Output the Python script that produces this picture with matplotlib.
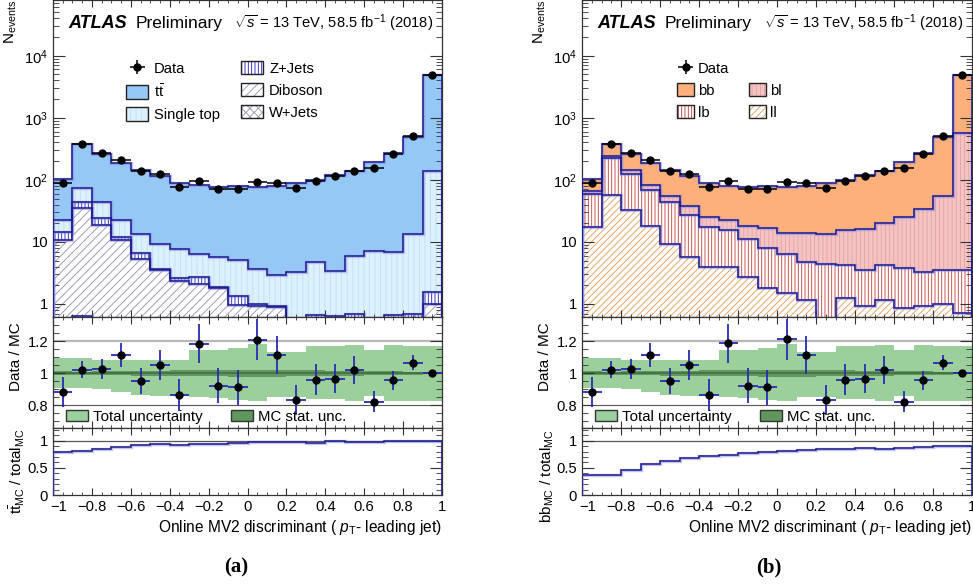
import numpy as np
import matplotlib.pyplot as plt
from matplotlib.patches import Patch
from matplotlib.legend_handler import HandlerTuple
from matplotlib.transforms import ScaledTranslation
from matplotlib.ticker import MultipleLocator, LogLocator, FuncFormatter, NullFormatter

plt.rcParams['font.family'] = ['Liberation Sans', 'DejaVu Sans']
plt.rcParams['mathtext.fontset'] = 'custom'
plt.rcParams['mathtext.rm'] = 'Liberation Sans'
plt.rcParams['mathtext.it'] = 'Liberation Sans:italic'
plt.rcParams['mathtext.bf'] = 'Liberation Sans:bold'
plt.rcParams['hatch.linewidth'] = 0.65

# 20 bins of the online MV2 discriminant
bin_edges = np.linspace(-1.0, 1.0, 21)

data = np.array([90, 384, 267, 206, 138, 122, 77, 96, 72, 72,
                 92, 89, 75, 97, 116, 140, 157, 257, 517, 4900])

# (a) composition by process
w_jets = np.array([0.3, 0.63, 0.3, 0.3, 0.3, 0.3, 0.3, 0.3, 0.3, 0.3,
                   0.3, 0.3, 0.3, 0.3, 0.3, 0.3, 0.3, 0.3, 0.3, 0.3])
diboson = np.array([10.3, 34.1, 18.1, 10.3, 5.1, 3.2, 2.03, 1.8, 1.5, 0.67,
                    0.63, 0.59, 0.2, 0.25, 0.25, 0.25, 0.25, 0.25, 0.25, 0.7])
z_jets = np.array([3.6, 8.8, 5.5, 1.6, 1.3, 0.1, 0.31, 0.6, 0.05, 0.36,
                   0.05, 0.03, 0.08, 0.11, 0.1, 0.15, 0.05, 0.11, 0.15, 0.55])
single_top = np.array([8.0, 31.5, 19.6, 10.0, 6.9, 5.7, 5.16, 3.75, 3.95, 3.77,
                       2.67, 1.98, 2.72, 4.09, 2.75, 5.2, 6.5, 6.24, 12.9, 139.5])
ttbar = np.array([79.8, 301, 216.5, 162.8, 131.4, 106.7, 81.2, 74.6, 72.2, 73.9,
                  72.4, 77.1, 86.7, 96.3, 116.6, 131.1, 183.9, 262.1, 471.4, 4759])

# (b) composition by jet flavour
ll = np.array([17.3, 57, 32.7, 18.2, 9.4, 5.7, 3.9, 3.9, 2.7, 1.8,
               1.49, 1.17, 0.55, 1.24, 0.94, 1.17, 0.86, 0.94, 1.01, 0.71])
lb = np.array([41.7, 168, 93.3, 50.8, 33.8, 21.7, 13.6, 11.6, 8.4, 6.1,
               4.91, 3.63, 3.91, 3.01, 2.62, 3.13, 2.94, 2.33, 2.46, 2.76])
bl = np.array([8, 21, 16, 15, 11.8, 10.6, 7.5, 7, 7.1, 8.8,
               7.6, 9, 8.74, 11.25, 12.44, 16.2, 21, 31, 51.5, 567.5])
bb = np.array([35, 130, 118, 101, 90, 78, 64, 58.5, 59.8, 62.3,
               62, 66.2, 76.8, 85.5, 104, 116.5, 166.2, 234.7, 430, 4329])

# uncertainty bands on Data / MC (half widths)
tot_up = np.array([0.096, 0.096, 0.085, 0.085, 0.085, 0.085, 0.083, 0.145, 0.145, 0.155,
                   0.183, 0.131, 0.131, 0.167, 0.167, 0.177, 0.142, 0.173, 0.169, 0.169])
tot_dn = np.array([0.094, 0.094, 0.1, 0.12, 0.135, 0.144, 0.144, 0.15, 0.152, 0.165,
                   0.17, 0.15, 0.15, 0.16, 0.16, 0.171, 0.14, 0.171, 0.171, 0.171])
mc_stat = np.array([0.012, 0.01, 0.012, 0.014, 0.016, 0.016, 0.018, 0.02, 0.02, 0.022,
                    0.022, 0.022, 0.02, 0.018, 0.016, 0.015, 0.013, 0.012, 0.01, 0.008])

# signal fraction shown in the bottom pads
tt_frac = np.array([0.793, 0.811, 0.854, 0.89, 0.927, 0.933, 0.92, 0.933, 0.945, 0.963,
                    0.976, 0.976, 0.976, 0.963, 0.988, 0.98, 0.98, 0.988, 0.988, 0.988])
bb_frac = np.array([0.372, 0.372, 0.46, 0.567, 0.634, 0.677, 0.713, 0.73, 0.768, 0.787,
                    0.817, 0.835, 0.854, 0.854, 0.872, 0.854, 0.872, 0.884, 0.896, 0.896])

NAVY = '#1c1c8e'
HALO = '#8a8ae0'
FRAME = '#333333'
FS = 10.6

centers = 0.5 * (bin_edges[:-1] + bin_edges[1:])
half_w = 0.5 * np.diff(bin_edges)


def handle(face, hatch=None, hcol=None):
    parts = [Patch(facecolor=face, edgecolor='none', lw=0)]
    if hatch:
        parts.append(Patch(facecolor='none', edgecolor=hcol, hatch=hatch, lw=0))
    parts.append(Patch(facecolor='none', edgecolor='#222222', lw=1.0))
    return tuple(parts)


def outline(ax, top, baseline):
    ax.stairs(top, bin_edges, baseline=baseline, color=HALO, lw=2.4, alpha=0.5, zorder=3)
    ax.stairs(top, bin_edges, baseline=baseline, color=NAVY, lw=1.1, zorder=3.1)


def draw_stack(ax, layers):
    bottom = np.full(len(centers), 1e-3)
    tops = []
    for vals, face, hatch, hcol in layers:
        top = bottom + vals
        ax.stairs(top, bin_edges, baseline=bottom, fill=True, facecolor=face,
                  edgecolor='none', lw=0, zorder=1)
        if hatch:
            ax.stairs(top, bin_edges, baseline=bottom, fill=True, facecolor='none',
                      edgecolor=hcol, hatch=hatch, lw=0, zorder=1.5)
        tops.append(top)
        bottom = top
    for top in tops:
        outline(ax, top, 1e-3)
    return bottom


def style(ax, ymaj, ymin):
    for s in ax.spines.values():
        s.set_color(FRAME)
        s.set_linewidth(0.9)
    ax.tick_params(which='both', direction='in', top=True, right=True,
                   labelsize=FS, color=FRAME)
    ax.tick_params(axis='y', which='major', length=ymaj)
    ax.tick_params(axis='y', which='minor', length=ymin)
    ax.tick_params(axis='x', which='major', length=5)
    ax.tick_params(axis='x', which='minor', length=2.5)
    ax.set_xlim(-1, 1)
    ax.xaxis.set_major_locator(MultipleLocator(0.2))
    ax.xaxis.set_minor_locator(MultipleLocator(0.05))


def log_label(v, pos):
    if v == 1:
        return '1'
    if v == 10:
        return '10'
    return r'$\mathregular{10^{%d}}$' % round(np.log10(v))


def plain_label(v, pos):
    return ('%g' % round(v, 2)).replace('-', '\u2212')


def draw_column(fig, left, width, layers, leg_labels, leg_handles, leg_cfg,
                frac, frac_label, caption, cap_x):
    ax = fig.add_axes([left, 0.46, width, 0.54])
    rax = fig.add_axes([left, 0.2709, width, 0.1891], sharex=ax)
    fax = fig.add_axes([left, 0.1567, width, 0.1142], sharex=ax)

    total = draw_stack(ax, layers)
    dat = ax.errorbar(centers, data, xerr=half_w, yerr=np.sqrt(data), fmt='o',
                      color='black', ms=5, elinewidth=1.1, capsize=0, zorder=5)
    ax.set_yscale('log')
    ax.set_ylim(0.617, 7.9e4)
    style(ax, 8.5, 4.3)
    ax.yaxis.set_major_locator(LogLocator(base=10, numticks=10))
    ax.yaxis.set_minor_locator(LogLocator(base=10, subs=np.arange(2, 10), numticks=20))
    ax.yaxis.set_major_formatter(FuncFormatter(log_label))
    ax.yaxis.set_minor_formatter(NullFormatter())
    ax.tick_params(axis='x', labelbottom=False)
    ax.set_ylabel(r'N$_{\mathrm{events}}$', fontsize=11, loc='top')
    ax.yaxis.set_label_coords(-0.088, 1.0)

    ax.text(0.04, 0.927, 'ATLAS', transform=ax.transAxes, fontsize=13,
            fontweight='bold', fontstyle='italic', va='center')
    ax.text(0.212, 0.927, 'Preliminary', transform=ax.transAxes, fontsize=12.5, va='center')
    ax.text(0.466, 0.927, r'$\sqrt{s}$ = 13 TeV, 58.5 fb$^{\mathregular{-1}}$ (2018)',
            transform=ax.transAxes, fontsize=10.6, va='center')

    ax.legend([dat] + leg_handles, leg_labels, ncol=2, loc='upper left',
              bbox_to_anchor=leg_cfg['anchor'], frameon=False, fontsize=FS,
              handlelength=leg_cfg['hl'], handleheight=1.0,
              handletextpad=leg_cfg['pad'], labelspacing=0.5,
              columnspacing=leg_cfg['cs'], borderpad=0, borderaxespad=0,
              handler_map={tuple: HandlerTuple(ndivide=1)})

    # Data / MC
    ratio = data / total
    rax.stairs(1 + tot_up, bin_edges, baseline=1 - tot_dn, fill=True,
               color='#9bcf9b', zorder=1)
    rax.stairs(1 + mc_stat, bin_edges, baseline=1 - mc_stat, fill=True,
               color='#5f975f', zorder=1.2)
    rax.axhline(1.2, color='#b8b8b8', lw=1.6, zorder=0.5)
    rax.axhline(0.8, color='#555555', lw=0.8, zorder=0.5)
    rax.axhline(1.0, color='#446e44', lw=1.2, zorder=1.3)
    rax.errorbar(centers, ratio, xerr=half_w, yerr=np.sqrt(data) / total, fmt='o',
                 mfc='black', mec='black', ecolor='#2a2ab4', ms=5, elinewidth=1.3,
                 capsize=0, zorder=5)
    rax.set_ylim(0.659, 1.35)
    style(rax, 8.5, 4.3)
    rax.yaxis.set_major_locator(MultipleLocator(0.2))
    rax.yaxis.set_minor_locator(MultipleLocator(0.05))
    rax.yaxis.set_major_formatter(FuncFormatter(plain_label))
    rax.tick_params(axis='x', labelbottom=False)
    rax.set_ylabel('Data / MC', fontsize=11, loc='top')
    rax.yaxis.set_label_coords(-0.076, 0.95)
    rax.legend([Patch(facecolor='#9bcf9b', edgecolor='#333333', lw=1.0),
                Patch(facecolor='#5f975f', edgecolor='#333333', lw=1.0)],
               ['Total uncertainty', 'MC stat. unc.'], ncol=2, loc='center left',
               bbox_to_anchor=(0.034, 0.1), frameon=False, fontsize=10.8,
               handlelength=1.45, handleheight=0.8, handletextpad=0.35,
               columnspacing=1.9, borderpad=0, borderaxespad=0)

    # signal fraction
    fax.axhline(1.0, color='#555555', lw=0.9, zorder=0.5)
    fax.stairs(frac, bin_edges, baseline=0, color=HALO, lw=2.4, alpha=0.5, zorder=3)
    fax.stairs(frac, bin_edges, baseline=0, color=NAVY, lw=1.1, zorder=3.1)
    fax.set_ylim(0, 1.234)
    style(fax, 8.5, 4.3)
    fax.yaxis.set_major_locator(MultipleLocator(0.5))
    fax.yaxis.set_minor_locator(MultipleLocator(0.1))
    fax.yaxis.set_major_formatter(FuncFormatter(plain_label))
    fax.xaxis.set_major_formatter(FuncFormatter(plain_label))
    fax.set_ylabel(frac_label, fontsize=11, loc='top')
    fax.yaxis.set_label_coords(-0.066, 0.99)
    fax.set_xlabel(r'Online MV2 discriminant ( $p_{\mathrm{T}}$- leading jet)',
                   fontsize=11.2, loc='right', labelpad=3)
    # the leftmost x label sits a little right of its tick, clear of the y "0"
    locs = fax.xaxis.get_majorticklocs()
    ticks = fax.xaxis.get_major_ticks(len(locs))
    first = ticks[int(np.argmin(np.abs(locs + 1.0)))].label1
    first.set_transform(first.get_transform()
                        + ScaledTranslation(4 / 72, 0, fig.dpi_scale_trans))

    fig.text(cap_x, 1 - 567 / 587, caption, family=['Liberation Serif', 'DejaVu Serif'],
             fontweight='bold', fontsize=15, ha='center', va='center')


fig = plt.figure(figsize=(9.73, 5.87), dpi=100)

layers_a = [
    (w_jets, 'white', 'xxxx', '#9a9aae'),
    (diboson, 'white', '////', '#9a9aae'),
    (z_jets, 'white', '|||||', '#2b2bc8'),
    (single_top, '#dcf1fd', '|||', '#bfe2f7'),
    (ttbar, '#96c8f6', None, None),
]
handles_a = [handle('#96c8f6'), handle('#dcf1fd', '|||', '#bfe2f7'),
             handle('white', '|||||', '#2b2bc8'), handle('white', '////', '#9a9aae'),
             handle('white', 'xxxx', '#9a9aae')]
labels_a = ['Data', r'$\mathrm{t\bar{t}}$', 'Single top', 'Z+Jets', 'Diboson', 'W+Jets']
draw_column(fig, 53 / 973, 389 / 973, layers_a, labels_a, handles_a,
            {'anchor': (0.188, 0.807), 'hl': 1.5, 'pad': 0.4, 'cs': 1.43},
            tt_frac, r'$\mathrm{t\bar{t}_{MC}\ /\ total_{MC}}$', '(a)', 236 / 973)

layers_b = [
    (ll, 'white', '/////', '#e9a15c'),
    (lb, 'white', '|||||', '#c44a4a'),
    (bl, '#f4c4c4', '||||', '#e7a3a3'),
    (bb, '#fdb07c', None, None),
]
blank = Patch(facecolor='none', edgecolor='none')
handles_b = [handle('#fdb07c'), handle('white', '|||||', '#c44a4a'), blank,
             handle('#f4c4c4', '||||', '#e7a3a3'), handle('white', '/////', '#e9a15c')]
labels_b = ['Data', 'bb', 'lb', '', 'bl', 'll']
draw_column(fig, 582 / 973, 390 / 973, layers_b, labels_b, handles_b,
            {'anchor': (0.244, 0.807), 'hl': 1.15, 'pad': 0.25, 'cs': 1.36},
            bb_frac, r'$\mathrm{bb_{MC}\ /\ total_{MC}}$', '(b)', 769 / 973)

fig.savefig('out.png', dpi=100)
